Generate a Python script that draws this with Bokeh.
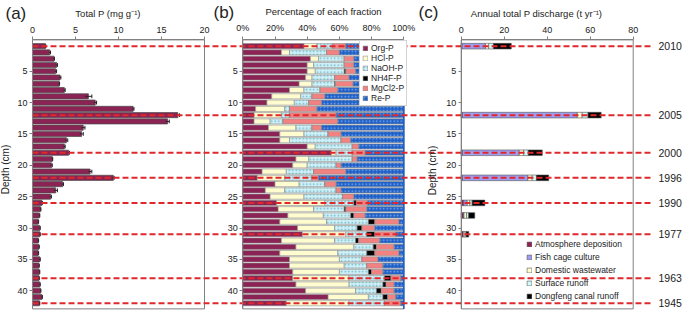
import numpy as np
from bokeh.plotting import figure
from bokeh.models import (Range1d, LinearAxis, FixedTicker, PrintfTickFormatter,
                          Label, Legend, LegendItem, ColumnDataSource)
from bokeh.embed import file_html
from bokeh.resources import INLINE
from bokeh.core.properties import value

# ---------------- data ----------------
depth = list(range(1, 43))
total_p = [1.5, 2.0, 2.5, 2.8, 2.7, 3.2, 3.1, 3.7, 6.5, 7.3, 11.7, 16.9, 15.7, 5.9,
           5.7, 3.95, 3.7, 4.2, 2.3, 2.2, 6.7, 9.4, 3.5, 2.7, 2.1, 1.1, 0.93, 0.8,
           0.66, 0.85, 0.85, 0.66, 0.74, 0.66, 0.85, 0.74, 0.8, 0.74, 0.85, 0.93,
           1.1, 0.8]
total_p_err = [0.05, 0.1, 0.05, 0.1, 0.1, 0.1, 0.05, 0.1, 0.4, 0.15, 0.1, 0.2, 0.2,
               0.2, 0.2, 0.15, 0.1, 0.1, 0.05, 0.1, 0.2, 0.1, 0.1, 0.2, 0.1, 0.05,
               0.05, 0.05, 0.05, 0.05, 0.05, 0.05, 0.05, 0.05, 0.05, 0.05, 0.05,
               0.05, 0.05, 0.05, 0.05, 0.05]

fractions = ["Org-P", "HCl-P", "NaOH-P", "NH4F-P", "MgCl2-P", "Re-P"]
org_p = [38, 24, 42, 40, 40, 39, 35, 29, 18, 15, 8, 7, 7, 16, 23, 23, 40, 55, 33, 31, 12,
         9, 20, 14, 17, 21, 22, 28, 23, 34, 37, 24, 33, 23, 29, 29, 31, 31, 33, 39, 53, 27]
hcl_p = [8, 5, 5, 4, 5, 4, 8, 9, 18, 17, 18, 17, 10, 17, 15, 6, 5, 3, 8, 9, 15, 17, 15,
         12, 21, 30, 22, 22, 29, 23, 27, 33, 36, 36, 31, 34, 29, 35, 33, 31, 25, 39]
naoh_p = [10, 23, 16, 19, 18, 14, 14, 10, 7, 9, 3, 5, 8, 10, 15, 32, 23, 10, 27, 18, 17,
          17, 16, 32, 24, 18, 19, 17, 26, 14, 13, 13, 12, 18, 14, 14, 18, 22, 21, 13, 9, 22]
nh4f_p = [0, 0, 0, 0, 1, 0, 0.5, 0, 0, 0, 0, 0, 0, 0, 0, 0, 0, 0, 0, 0, 0, 0, 0, 0, 0,
          1.5, 1, 2, 4, 3, 5, 2, 2, 5, 0, 0, 2, 4, 2, 3, 3, 0]
mgcl2_p = [8, 8, 6, 6, 6, 9, 11, 11, 8, 8, 17, 29, 34, 6, 8, 6, 4, 8, 3, 3, 20, 4, 7, 3,
           7, 7, 13, 7, 15, 8, 13, 13, 11, 15, 10, 10, 7, 6, 5, 8, 5, 10]
re_p = [36, 40, 31, 31, 30, 34, 31.5, 41, 49, 51, 54, 42, 41, 51, 39, 33, 28, 24, 29, 39,
        36, 53, 42, 39, 31, 22.5, 23, 24, 3, 18, 5, 15, 6, 3, 16, 13, 13, 2, 6, 6, 5, 2]

year_depth = [1, 12, 18, 22, 26, 31, 38, 42]
year_labels = ["2010", "2005", "2000", "1996", "1990", "1977", "1963", "1945"]

discharge_depth = [1, 12, 18, 22, 26, 28, 31]
sources = ["Atmosphere deposition", "Fish cage culture", "Domestic wastewater",
           "Surface runoff", "Dongfeng canal runoff"]
atm = [0.5, 0.6, 0.6, 0.6, 1.2, 1.0, 1.0]
fish = [10.8, 53.4, 26.4, 30.4, 1.6, 0.3, 0.0]
domestic = [1.5, 2.3, 2.1, 2.0, 1.2, 1.2, 0.8]
surface = [2.2, 2.7, 2.1, 2.0, 1.1, 1.0, 0.5]
canal = [8.3, 6.1, 6.5, 5.7, 5.9, 2.8, 1.2]

a_ticks = [0, 5, 10, 15, 20]
b_ticks = [0, 20, 40, 60, 80, 100]
c_ticks = [0, 20, 40, 60, 80]
depth_ticks = [5, 10, 15, 20, 25, 30, 35, 40]
depth_max = 42.9

# ---------------- layout (canvas pixels; the frame fills the whole canvas) -------------
W, H = 685, 311
A0, A_PX = 32.0, 8.6      # panel (a): pixel of 0, pixels per unit
B0, B_PX = 242.3, 1.61    # panel (b)
C0, C_PX = 460.7, 2.15    # panel (c)
Y0, PX_CM = 39.4, 6.27    # pixel of depth 0, pixels per cm

def rng(x0, pxu):
    return Range1d((0 - x0) / pxu, (W - x0) / pxu)

def dy(py):
    return (py - Y0) / PX_CM

FONT = "Liberation Sans"
GRAY = "#808080"
TXT = "#222222"

p = figure(width=W, height=H, output_backend="svg", toolbar_location=None, title=None,
           x_axis_location=None, y_axis_location=None,
           x_range=rng(A0, A_PX), y_range=Range1d(dy(H), dy(0)),
           min_border_left=0, min_border_right=0, min_border_top=0, min_border_bottom=0)
p.extra_x_ranges = {"b": rng(B0, B_PX), "c": rng(C0, C_PX)}
p.outline_line_color = None
p.xgrid.visible = False
p.ygrid.visible = False
p.background_fill_color = "white"

# ---------------- panel boxes ----------------
p.quad(left=0, right=20, top=0, bottom=depth_max, fill_color=None, line_color=GRAY, line_width=1)
p.quad(left=0, right=100, top=0, bottom=depth_max, fill_color=None, line_color=GRAY,
       line_width=1, x_range_name="b")
p.quad(left=0, right=80, top=0, bottom=depth_max, fill_color=None, line_color=GRAY,
       line_width=1, x_range_name="c")

# ---------------- panel (a) ----------------
tp = np.array(total_p)
te = np.array(total_p_err)
dd = np.array(depth)
p.hbar(y=depth, left=0, right=total_p, height=0.82, fill_color="#8B2454",
       line_color="#4a4a4a", line_width=0.7)
p.segment(x0=tp - te, x1=tp + te, y0=dd, y1=dd, line_color=TXT, line_width=1)
p.segment(x0=tp + te, x1=tp + te, y0=dd - 0.3, y1=dd + 0.3, line_color=TXT, line_width=1)

# ---------------- panel (b) ----------------
src_b = ColumnDataSource(dict(depth=depth, **{"Org-P": org_p, "HCl-P": hcl_p,
                                               "NaOH-P": naoh_p, "NH4F-P": nh4f_p,
                                               "MgCl2-P": mgcl2_p, "Re-P": re_p}))
b_fill = ["#8B2454", "#FFFDD0", "#CFF0F6", "#000000", "#F28282", "#1E60C8"]
b_hatch = [" ", " ", ".", " ", " ", "."]
b_hcol = ["#8B2454", "#FFFDD0", "#6FB8CC", "#000000", "#F28282", "#7FA8EA"]
rb = p.hbar_stack(fractions, y="depth", height=0.82, source=src_b, x_range_name="b",
                  fill_color=b_fill, hatch_pattern=b_hatch, hatch_color=b_hcol,
                  hatch_scale=3.5, hatch_weight=1, line_color="#8a8a8a", line_width=0.6)
p.segment(x0=100, x1=100, y0=0, y1=depth_max, x_range_name="b", line_color="#1E60C8",
          line_width=1.5)

# ---------------- panel (c) ----------------
src_c = ColumnDataSource(dict(depth=discharge_depth, atm=atm, fish=fish, domestic=domestic,
                              surface=surface, canal=canal))
c_keys = ["atm", "fish", "domestic", "surface", "canal"]
c_fill = ["#8B2454", "#9E9EF0", "#FFFDD0", "#D2FAFA", "#000000"]
rc = p.hbar_stack(c_keys, y="depth", height=0.9, source=src_c, x_range_name="c",
                  fill_color=c_fill, line_color="#555555", line_width=0.6)

# ---------------- dashed year lines ----------------
x_end = (652 - A0) / A_PX
p.segment(x0=[0] * len(year_depth), x1=[x_end] * len(year_depth), y0=year_depth,
          y1=year_depth, line_color="#E0282C", line_width=2, line_dash="6 3")
x_year = (658 - C0) / C_PX
p.text(x=[x_year] * len(year_depth), y=year_depth, text=year_labels, x_range_name="c",
       text_font=value(FONT), text_font_size="10.5px", text_baseline="middle",
       text_align="left", text_color=TXT)

# ---------------- axes ----------------
def style(ax, standoff):
    ax.axis_line_color = GRAY
    ax.major_tick_line_color = GRAY
    ax.major_tick_out = 3
    ax.major_tick_in = 0
    ax.minor_tick_line_color = None
    ax.major_label_text_font = FONT
    ax.major_label_text_font_size = "9px"
    ax.major_label_text_color = TXT
    ax.major_label_standoff = standoff

for name, ticks, hi, fmt in [("default", a_ticks, 20, None), ("b", b_ticks, 100, "%d%%"),
                             ("c", c_ticks, 80, None)]:
    top = LinearAxis(x_range_name=name, fixed_location=0, bounds=(0, hi),
                     ticker=FixedTicker(ticks=ticks))
    if fmt:
        top.formatter = PrintfTickFormatter(format=fmt)
    style(top, 4)
    p.add_layout(top, "above")
    left = LinearAxis(x_range_name=name, fixed_location=0, bounds=(0, depth_max),
                      ticker=FixedTicker(ticks=depth_ticks))
    style(left, 2)
    p.add_layout(left, "left")

# ---------------- texts ----------------
def lab(text, x, py, size, rname="default", align="center", angle=0):
    p.add_layout(Label(x=x, y=dy(py), text=text, x_range_name=rname, text_font=FONT,
                       text_font_size=size, text_align=align, text_baseline="middle",
                       text_color=TXT, angle=angle))

lab("(a)", (5 - A0) / A_PX, 13, "17px", align="left")
lab("(b)", (213 - B0) / B_PX, 12, "17px", rname="b", align="left")
lab("(c)", (418 - C0) / C_PX, 12, "17px", rname="c", align="left")
lab("Total P (mg g\u207b\u00b9)", (107.5 - A0) / A_PX, 13, "9.5px")
lab("Percentage of each fraction", (323 - B0) / B_PX, 11, "9.5px", rname="b")
lab("Annual total P discharge (t yr\u207b\u00b9)", (536 - C0) / C_PX, 13, "9.5px", rname="c")
lab("Depth (cm)", (5 - A0) / A_PX, 169, "10px", angle=np.pi / 2)
lab("Depth (cm)", (432 - C0) / C_PX, 170, "10px", rname="c", angle=np.pi / 2)

# ---------------- legends ----------------
leg_b = Legend(items=[LegendItem(label=f, renderers=[r]) for f, r in zip(fractions, rb)],
               location=(359, H - 106), label_text_font=FONT,
               label_text_font_size="8.5px", label_text_color=TXT,
               glyph_width=6, glyph_height=6, label_height=8, spacing=0, padding=2,
               margin=0, label_standoff=3, background_fill_color="white",
               background_fill_alpha=1, border_line_color="#aaaaaa", border_line_width=0.5)
p.add_layout(leg_b, "center")
leg_c = Legend(items=[LegendItem(label=s, renderers=[r]) for s, r in zip(sources, rc)],
               location=(526, H - 302), label_text_font=FONT,
               label_text_font_size="8.5px", label_text_color=TXT,
               glyph_width=6, glyph_height=6, label_height=12, spacing=1, padding=0,
               margin=0, label_standoff=3, background_fill_alpha=0, border_line_color=None)
p.add_layout(leg_c, "center")

open("out.html", "w").write(file_html(p, INLINE))
